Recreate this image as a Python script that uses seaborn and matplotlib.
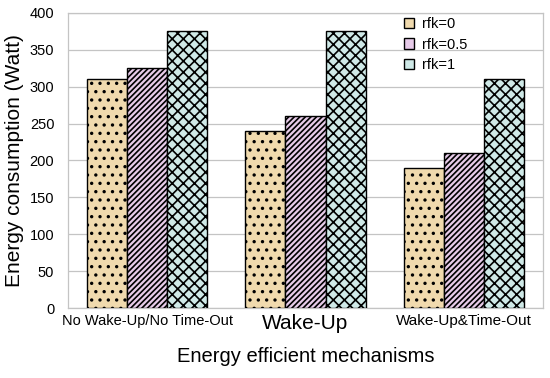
import pandas as pd
import matplotlib
matplotlib.use("Agg")
import matplotlib.pyplot as plt
import seaborn as sns

mechanisms = ["No Wake-Up/No Time-Out", "Wake-Up", "Wake-Up&Time-Out"]
rfk_levels = ["rfk=0", "rfk=0.5", "rfk=1"]
rfk_0 = [310, 240, 190]
rfk_05 = [325, 260, 210]
rfk_1 = [375, 375, 310]

colors = ["#FBDDA3", "#EBC6EE", "#CBEDEA"]
hatches = ["..", "//////", "xxx"]

df = pd.DataFrame({
    "mechanism": mechanisms * 3,
    "rfk": [r for r in rfk_levels for _ in mechanisms],
    "energy": rfk_0 + rfk_05 + rfk_1,
})

sns.set_style("white")
plt.rcParams["font.family"] = ["Liberation Sans", "DejaVu Sans"]
plt.rcParams["hatch.linewidth"] = 1.2
plt.rcParams["text.color"] = "black"
plt.rcParams["axes.labelcolor"] = "black"
plt.rcParams["xtick.color"] = "black"
plt.rcParams["ytick.color"] = "black"

fig, ax = plt.subplots(figsize=(5.5, 3.78), dpi=100)
fig.subplots_adjust(left=0.124, right=0.987, top=0.966, bottom=0.185)

sns.barplot(data=df, x="mechanism", y="energy", hue="rfk", order=mechanisms,
            hue_order=rfk_levels, palette=colors, width=0.76, gap=0,
            edgecolor="black", linewidth=1.0, ax=ax, zorder=3)

for container, h in zip(ax.containers, hatches):
    for bar in container:
        bar.set_hatch(h)

ax.set_ylim(0, 400)
ax.set_yticks(range(0, 401, 50))
ax.set_xlim(-0.5, 2.5)
ax.yaxis.grid(True, color="#c4c4c4", linewidth=0.9, zorder=0)
ax.tick_params(axis="y", length=6, color="#c4c4c4", labelsize=10.5, pad=4)
ax.tick_params(axis="x", length=0, pad=4)
ax.set_xticks([-0.5, 0.5, 1.5, 2.5], minor=True)
ax.tick_params(axis="x", which="minor", length=6, color="#c4c4c4")

labels = ax.get_xticklabels()
sizes = [10.5, 15, 11]
for lab, s in zip(labels, sizes):
    lab.set_fontsize(s)
labels[0].set_fontstretch("condensed")

for side in ["left", "right", "top", "bottom"]:
    ax.spines[side].set_visible(True)
    ax.spines[side].set_color("#c4c4c4")
    ax.spines[side].set_linewidth(0.9)

ax.set_ylabel("Energy consumption (Watt)", fontsize=15, labelpad=4)
ax.set_xlabel("Energy efficient mechanisms", fontsize=14.5, labelpad=10)

handles, lbls = ax.get_legend_handles_labels()
leg = ax.legend(handles, lbls, loc="upper left", bbox_to_anchor=(0.68, 1.03),
                frameon=False, fontsize=10.5, handlelength=0.7, handleheight=0.7,
                handletextpad=0.5, labelspacing=0.45)

plt.savefig("out.png", dpi=100)
